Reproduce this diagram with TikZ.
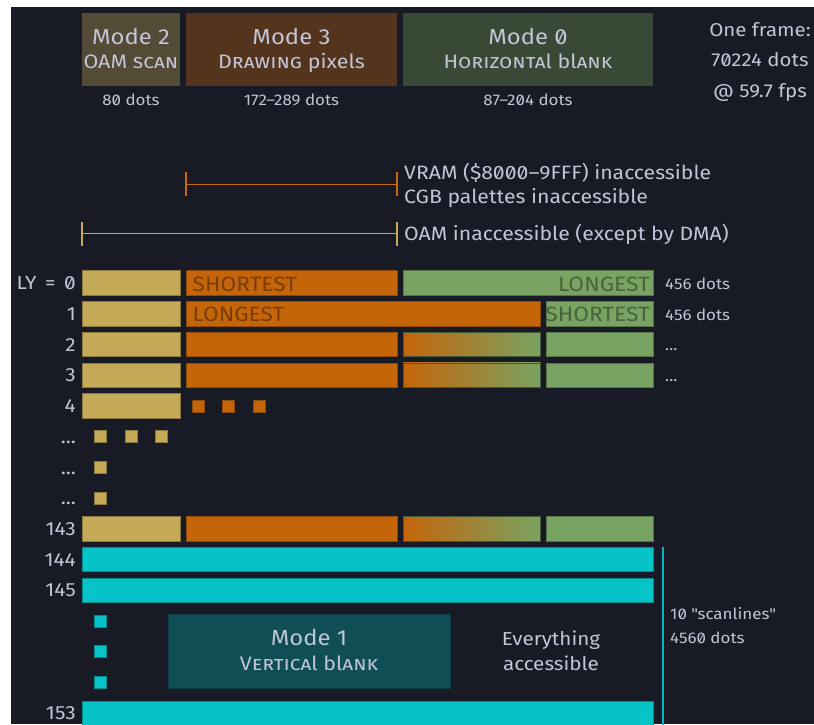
\documentclass[tikz,border=0pt]{standalone}
\usepackage{fontspec}
\setmainfont{Fira Sans}[Numbers=SlashedZero, FakeStretch=1.1]
\definecolor{bg}{HTML}{181A25}
\definecolor{ink}{HTML}{C2C5D8}
\definecolor{hdtwo}{HTML}{534B35}
\definecolor{hdthree}{HTML}{55341D}
\definecolor{hdzero}{HTML}{384A35}
\definecolor{ybar}{HTML}{C4AA57}
\definecolor{obar}{HTML}{C4650A}
\definecolor{gbar}{HTML}{79A362}
\definecolor{cbar}{HTML}{05C3C7}
\definecolor{vbox}{HTML}{0F4E54}
\definecolor{vline}{HTML}{07B5BA}
\definecolor{obrk}{HTML}{C8680F}
\definecolor{ybrk}{HTML}{C7AA52}
\definecolor{otext}{HTML}{7A3D08}
\definecolor{gtext}{HTML}{4A623C}
\newcommand\fs[1]{\fontsize{#1}{#1}\selectfont}
% one bar segment: colour, left x, right x, row index
\newcommand\segbar[4]{%
  \pgfmathsetmacro\rt{270.7+30.73*#4}%
  \draw[seg=#1] (#2,\rt) rectangle (#3,\rt+24.5);}
% the orange-to-green part of a line whose mode 3 length varies
\newcommand\fadebar[1]{%
  \pgfmathsetmacro\rt{270.7+30.73*#1}%
  \shadedraw[left color=obar, right color=gbar, draw=gbar!55!black, line width=0.6pt]
    (403,\rt) rectangle (540.7,\rt+24.5);}
% a small square standing for omitted work: colour, left x, row index
\newcommand\dotsq[3]{%
  \pgfmathsetmacro\rc{270.7+30.73*#3+12.25}%
  \draw[seg=#1] (#2,\rc-6) rectangle (#2+12,\rc+6);}
\begin{document}
\begin{tikzpicture}[x=1pt,y=-1pt,
  seg/.style={fill=#1, draw=#1!72!black, line width=0.6pt},
  lbl/.style={text=ink, inner sep=0pt},
  title/.style={lbl, font=\fs{21.7}, anchor=base},
  sub/.style={lbl, font=\fs{19.5}, anchor=base},
  note/.style={lbl, font=\fs{15.4}},
  side/.style={lbl, font=\fs{19.3}, anchor=base west},
  rowlbl/.style={lbl, font=\fs{19}, anchor=base east},
  bartext/.style={inner sep=0pt, font=\fs{20.7}},
  hdbox/.style={inner sep=0pt, anchor=north west, minimum height=73pt},
  brk/.style={line width=1.3pt}]

\fill[white] (0,0) rectangle (814,724);
\fill[bg] (11,7) rectangle (814,724);
\useasboundingbox (0,0) rectangle (814,724);

% ---- mode headers
\node[hdbox, fill=hdtwo, minimum width=98pt] (m2box) at (82,13) {};
\node[hdbox, fill=hdthree, minimum width=211pt] (m3box) at (186,13) {};
\node[hdbox, fill=hdzero, minimum width=250pt] (m0box) at (403,13) {};

\node[title] (m2t) at (131,44) {Mode 2};
\node[sub] (m2s) at (131,68.3) {OAM \textsc{scan}};
\node[title] (m3t) at (291.5,44) {Mode 3};
\node[sub] (m3s) at (291.5,68.3) {D\textsc{rawing} pixels};
\node[title] (m0t) at (528,44) {Mode 0};
\node[sub] (m0s) at (528,68.3) {H\textsc{orizonta}l bl\textsc{ank}};

\node[note, anchor=base] (m2d) at (131,105) {80 dots};
\node[note, anchor=base] (m3d) at (291.5,105) {172–289 dots};
\node[note, anchor=base] (m0d) at (528,105) {87–204 dots};

\node[lbl, font=\fs{18.6}, anchor=base] (fr1) at (760,36) {One frame:};
\node[lbl, font=\fs{18.6}, anchor=base] (fr2) at (760,66.5) {70224 dots};
\node[lbl, font=\fs{18.6}, anchor=base] (fr3) at (760,97) {@ 59.7 fps};

% ---- access brackets
\coordinate (vl) at (186,184.3);
\coordinate (vr) at (397,184.3);
\draw[brk, obrk] (vl) -- (vr);
\draw[brk, obrk] ([yshift=-12pt]vl) -- ([yshift=12pt]vl);
\draw[brk, obrk] ([yshift=-12pt]vr) -- ([yshift=12pt]vr);
\coordinate (ol) at (82,233.5);
\coordinate (or) at (397,233.5);
\draw[brk, ybrk] (ol) -- (or);
\draw[brk, ybrk] ([yshift=-12pt]ol) -- ([yshift=12pt]ol);
\draw[brk, ybrk] ([yshift=-12pt]or) -- ([yshift=12pt]or);
\node[side] (vram) at (404,179.3) {VRAM (\$8000–9FFF) inaccessible};
\node[side] (cgb) at (404,203.5) {CGB palettes inaccessible};
\node[side] (oam) at (404,240) {OAM inaccessible (except by DMA)};

% ---- scanlines
\segbar{ybar}{82}{180}{0}
\segbar{obar}{186}{397}{0}
\segbar{gbar}{403}{653}{0}
\segbar{ybar}{82}{180}{1}
\segbar{obar}{186}{540.7}{1}
\segbar{gbar}{546.7}{653}{1}
\foreach \r in {2,3,8}{
  \segbar{ybar}{82}{180}{\r}
  \segbar{obar}{186}{397}{\r}
  \fadebar{\r}
  \segbar{gbar}{546.7}{653}{\r}
}
\segbar{ybar}{82}{180}{4}
\foreach \x in {192.3,222.7,253.3} {\dotsq{obar}{\x}{4}}
\foreach \x in {94.3,125,155.3} {\dotsq{ybar}{\x}{5}}
\dotsq{ybar}{94.3}{6}
\dotsq{ybar}{94.3}{7}
\segbar{cbar}{82}{653}{9}
\segbar{cbar}{82}{653}{10}
\foreach \r in {11,12,13} {\dotsq{cbar}{94.3}{\r}}
\draw[seg=cbar] (82,700.9) rectangle (653,740);

\node[bartext, text=otext, anchor=base west] (s0) at (192.5,291.2) {SHORTEST};
\node[bartext, text=gtext, anchor=base east] (l0) at (650,291.2) {LONGEST};
\node[bartext, text=otext, anchor=base west] (l1) at (192.5,321.9) {LONGEST};
\node[bartext, text=gtext, anchor=base east] (s1) at (650,321.9) {SHORTEST};

% ---- line numbers
\node[rowlbl] (ly0) at (76,289.6) {LY\hspace{3pt} = \hspace{3pt}0};
\node[rowlbl] (ly1) at (76,320.3) {1};
\node[rowlbl] (ly2) at (76,351.1) {2};
\node[rowlbl] (ly3) at (76,381.8) {3};
\node[rowlbl] (ly4) at (76,412.5) {4};
\node[rowlbl] (lyd1) at (76,443.3) {...};
\node[rowlbl] (lyd2) at (76,474) {...};
\node[rowlbl] (lyd3) at (76,504.7) {...};
\node[rowlbl] (ly143) at (76,535.4) {143};
\node[rowlbl] (ly144) at (76,566.2) {144};
\node[rowlbl] (ly145) at (76,596.9) {145};
\node[rowlbl] (ly153) at (76,719.8) {153};

\node[note, anchor=base west] (d0) at (665,289.2) {456 dots};
\node[note, anchor=base west] (d1) at (665,320) {456 dots};
\node[note, anchor=base west] (d2) at (665,350.7) {...};
\node[note, anchor=base west] (d3) at (665,381.4) {...};

% ---- vertical blank
\node[inner sep=0pt, anchor=north west, fill=vbox, draw=vbox!80!black, line width=0.6pt,
      minimum width=282.3pt, minimum height=74pt] (m1box) at (167.7,614.3) {};
\node[title] (m1t) at (309,645) {Mode 1};
\node[sub] (m1s) at (309,670) {V\textsc{ertica}l bl\textsc{ank}};
\node[lbl, font=\fs{18.8}, anchor=base] (ev1) at (551,645.5) {Everything};
\node[lbl, font=\fs{18.8}, anchor=base] (ev2) at (551,670) {accessible};

\coordinate (vtop) at (662.7,546.7);
\coordinate (vbot) at (662.7,740);
\draw[vline, line width=2pt] (vtop) -- (vbot);
\node[note, anchor=base west] (sc1) at (670,619.3) {10 \textquotedbl scanlines\textquotedbl};
\node[note, anchor=base west] (sc2) at (670,643.3) {4560 dots};
\end{tikzpicture}
\end{document}
